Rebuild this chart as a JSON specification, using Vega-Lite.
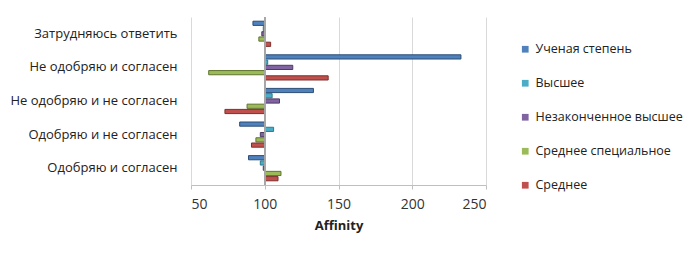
{
  "$schema": "https://vega.github.io/schema/vega-lite/v6.json",
  "autosize": "none",
  "width": 295,
  "height": 168,
  "padding": {"left": 191, "top": 17, "right": 214, "bottom": 69},
  "background": "white",
  "config": {
    "font": "Open Sans",
    "view": {"stroke": null}
  },
  "data": {
    "values": [
      {"cat": "Затрудняюсь ответить", "series": "Ученая степень", "value": 92},
      {"cat": "Затрудняюсь ответить", "series": "Высшее", "value": 99},
      {"cat": "Затрудняюсь ответить", "series": "Незаконченное высшее", "value": 98},
      {"cat": "Затрудняюсь ответить", "series": "Среднее специальное", "value": 96},
      {"cat": "Затрудняюсь ответить", "series": "Среднее", "value": 104},
      {"cat": "Не одобряю и согласен", "series": "Ученая степень", "value": 233},
      {"cat": "Не одобряю и согласен", "series": "Высшее", "value": 102},
      {"cat": "Не одобряю и согласен", "series": "Незаконченное высшее", "value": 119},
      {"cat": "Не одобряю и согласен", "series": "Среднее специальное", "value": 62},
      {"cat": "Не одобряю и согласен", "series": "Среднее", "value": 143},
      {"cat": "Не одобряю и не согласен", "series": "Ученая степень", "value": 133},
      {"cat": "Не одобряю и не согласен", "series": "Высшее", "value": 105},
      {"cat": "Не одобряю и не согласен", "series": "Незаконченное высшее", "value": 110},
      {"cat": "Не одобряю и не согласен", "series": "Среднее специальное", "value": 88},
      {"cat": "Не одобряю и не согласен", "series": "Среднее", "value": 73},
      {"cat": "Одобряю и не согласен", "series": "Ученая степень", "value": 83},
      {"cat": "Одобряю и не согласен", "series": "Высшее", "value": 106},
      {"cat": "Одобряю и не согласен", "series": "Незаконченное высшее", "value": 97},
      {"cat": "Одобряю и не согласен", "series": "Среднее специальное", "value": 94},
      {"cat": "Одобряю и не согласен", "series": "Среднее", "value": 91},
      {"cat": "Одобряю и согласен", "series": "Ученая степень", "value": 89},
      {"cat": "Одобряю и согласен", "series": "Высшее", "value": 97},
      {"cat": "Одобряю и согласен", "series": "Незаконченное высшее", "value": 99},
      {"cat": "Одобряю и согласен", "series": "Среднее специальное", "value": 111},
      {"cat": "Одобряю и согласен", "series": "Среднее", "value": 109}
    ]
  },
  "layer": [
    {
      "mark": {"type": "bar", "strokeWidth": 1},
      "encoding": {
        "y": {
          "field": "cat",
          "type": "nominal",
          "sort": ["Затрудняюсь ответить", "Не одобряю и согласен", "Не одобряю и не согласен", "Одобряю и не согласен", "Одобряю и согласен"],
          "scale": {"paddingInner": 0.25, "paddingOuter": 0.125},
          "axis": {
            "title": null,
            "ticks": false,
            "domain": false,
            "labelPadding": 14,
            "labelFontSize": 13,
            "labelColor": "#222222",
            "labelFont": "Open Sans",
            "labelLimit": 200
          }
        },
        "yOffset": {
          "field": "series",
          "type": "nominal",
          "sort": ["Ученая степень", "Высшее", "Незаконченное высшее", "Среднее специальное", "Среднее"],
          "scale": {"paddingInner": 0.2}
        },
        "x": {
          "field": "value",
          "type": "quantitative",
          "scale": {"domain": [50, 250], "nice": false, "zero": false},
          "axis": {
            "title": "Affinity",
            "titleFontSize": 13,
            "titleFontWeight": "bold",
            "titleColor": "#222222",
            "titlePadding": 8,
            "values": [50, 100, 150, 200, 250],
            "labelFontSize": 14,
            "labelColor": "#333333",
            "labelPadding": 8,
            "gridColor": "#d9d9d9",
            "domainColor": "#bfbfbf",
            "tickColor": "#bfbfbf",
            "tickSize": 4
          }
        },
        "x2": {"datum": 100},
        "color": {
          "field": "series",
          "type": "nominal",
          "sort": ["Ученая степень", "Высшее", "Незаконченное высшее", "Среднее специальное", "Среднее"],
          "scale": {"range": ["#4F81BD", "#4BACC6", "#8064A2", "#9BBB59", "#C0504D"]},
          "legend": {
            "title": null,
            "orient": "none",
            "legendX": 328,
            "legendY": 26,
            "symbolType": "square",
            "symbolSize": 45,
            "symbolStrokeWidth": 0,
            "labelFontSize": 12.5,
            "labelColor": "#222222",
            "rowPadding": 21,
            "labelOffset": 4
          }
        },
        "stroke": {
          "field": "series",
          "type": "nominal",
          "sort": ["Ученая степень", "Высшее", "Незаконченное высшее", "Среднее специальное", "Среднее"],
          "scale": {"range": ["#2c4d75", "#2c7a8e", "#4d3b63", "#5f7530", "#7d2f2c"]},
          "legend": null
        }
      }
    },
    {
      "mark": {"type": "rule", "color": "#a6a6a6", "strokeWidth": 1},
      "encoding": {"x": {"datum": 100}}
    }
  ]
}
